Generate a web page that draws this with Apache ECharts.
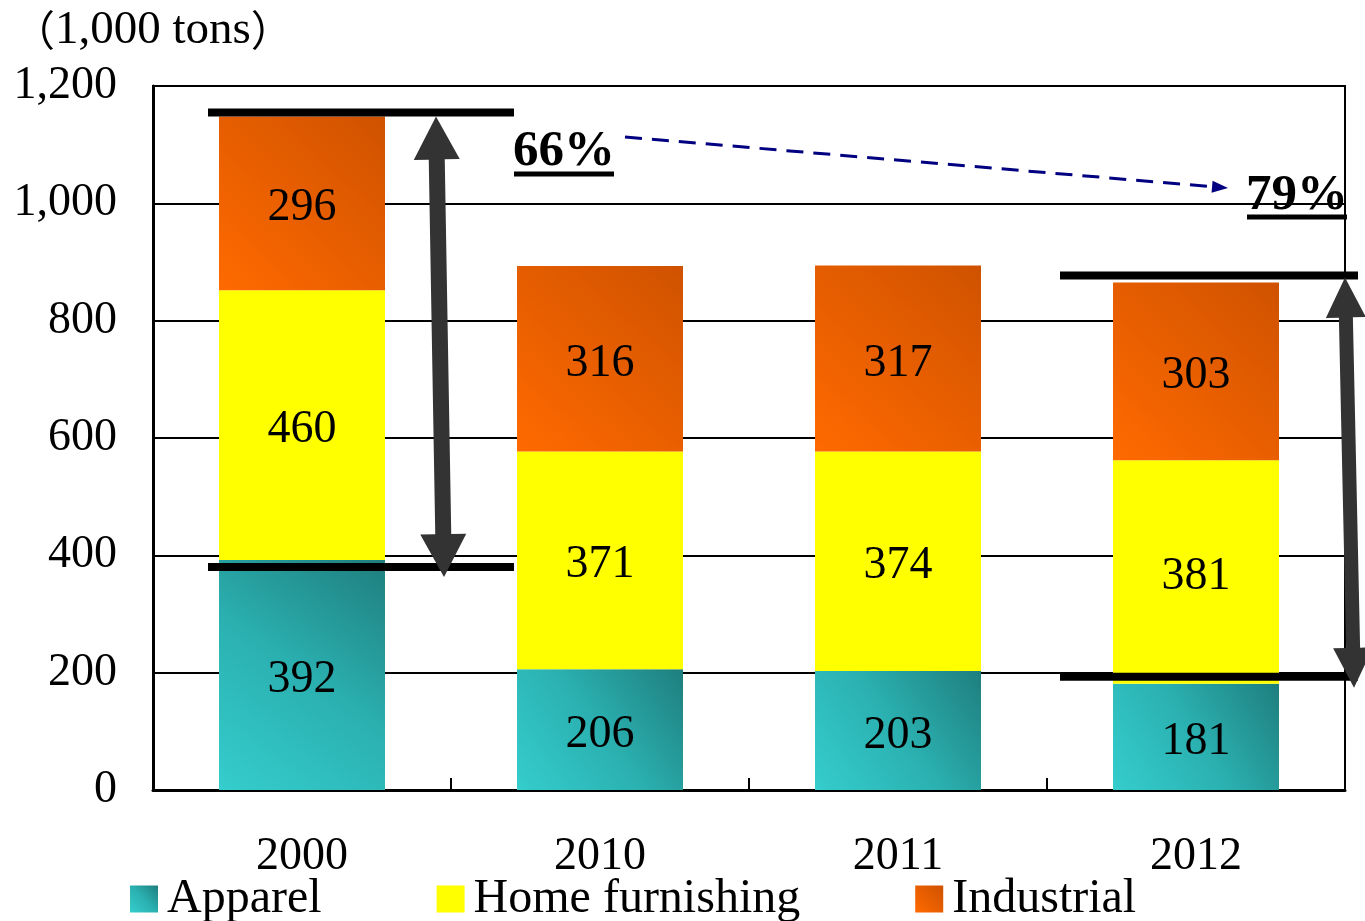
<!DOCTYPE html>
<html>
<head>
<meta charset="utf-8">
<script src="https://cdn.jsdelivr.net/npm/echarts@6/dist/echarts.min.js"></script>
<style>
  html, body { margin: 0; padding: 0; background: #fff; }
  #main { width: 1365px; height: 921px; }
</style>
</head>
<body>
<div id="main"></div>
<script>
// Textile consumption by end use (1,000 tons)
const categories = ['2000', '2010', '2011', '2012'];
const apparel = [392, 206, 203, 181];
const homeFurnishing = [460, 371, 374, 381];
const industrial = [296, 316, 317, 303];
const yTicks = [0, 200, 400, 600, 800, 1000, 1200];
const shareLabels = ['66%', '79%'];

const FONT = '"Liberation Serif", "Times New Roman", serif';
const CJK = '"Noto Sans CJK JP", "Noto Sans CJK SC", sans-serif';

const tealGrad = new echarts.graphic.LinearGradient(0, 1, 1, 0, [
  { offset: 0, color: '#35CDCD' },
  { offset: 0.5, color: '#2BB0B0' },
  { offset: 1, color: '#1F7E7E' }
]);
const orangeGrad = new echarts.graphic.LinearGradient(0, 1, 1, 0, [
  { offset: 0, color: '#FF6A00' },
  { offset: 1, color: '#CF5200' }
]);

const labelStyle = {
  show: true,
  position: 'inside',
  offset: [0, 5],
  color: '#000',
  fontFamily: FONT,
  fontSize: 46
};

function fmt(v) {
  return String(v).replace(/\B(?=(\d{3})+(?!\d))/g, ',');
}

const chart = echarts.init(document.getElementById('main'), null, { renderer: 'canvas' });

chart.setOption({
  animation: false,
  backgroundColor: '#fff',
  textStyle: { fontFamily: FONT },
  title: {
    text: '{p|（}{t|1,000 tons}{p|）}',
    left: 8,
    top: 2,
    textStyle: {
      fontWeight: 'normal',
      rich: {
        p: { fontFamily: CJK, fontSize: 42, fontWeight: 'normal', color: '#000' },
        t: { fontFamily: FONT, fontSize: 47, fontWeight: 'normal', color: '#000' }
      }
    }
  },
  legend: {
    left: 125,
    top: 870,
    itemWidth: 28,
    itemHeight: 27,
    itemGap: 115,
    icon: 'rect',
    textStyle: { fontFamily: FONT, fontSize: 48, color: '#000', padding: [0, 0, 0, 4] },
    data: ['Apparel', 'Home furnishing', 'Industrial']
  },
  grid: {
    left: 153,
    right: 20,
    top: 86,
    bottom: 131,
    show: true,
    borderColor: '#000',
    borderWidth: 2,
    backgroundColor: 'transparent'
  },
  xAxis: {
    type: 'category',
    data: categories,
    axisLine: { lineStyle: { color: '#000', width: 3 } },
    axisTick: { show: true, inside: true, length: 12, lineStyle: { color: '#000', width: 2 } },
    axisLabel: { color: '#000', fontFamily: FONT, fontSize: 46, margin: 44 }
  },
  yAxis: {
    type: 'value',
    min: 0,
    max: 1200,
    interval: 200,
    axisLine: { show: true, lineStyle: { color: '#000', width: 3 } },
    axisTick: { show: false },
    splitLine: { lineStyle: { color: '#000', width: 2 } },
    axisLabel: {
      color: '#000',
      fontFamily: FONT,
      fontSize: 46,
      margin: 36,
      formatter: v => (yTicks.includes(v) ? fmt(v) : '')
    }
  },
  series: [
    {
      name: 'Apparel',
      type: 'bar',
      stack: 'total',
      barWidth: 166,
      data: apparel,
      itemStyle: { color: tealGrad },
      label: labelStyle
    },
    {
      name: 'Home furnishing',
      type: 'bar',
      stack: 'total',
      barWidth: 166,
      data: homeFurnishing,
      itemStyle: { color: '#FFFF00' },
      label: labelStyle
    },
    {
      name: 'Industrial',
      type: 'bar',
      stack: 'total',
      barWidth: 166,
      data: industrial,
      itemStyle: { color: orangeGrad },
      label: labelStyle
    }
  ]
});

// ---- annotations: bracket lines, double arrows, share labels ----
function px(catIdx, value) {
  return chart.convertToPixel({ gridIndex: 0 }, [catIdx, value]);
}

function doubleArrow(x1, y1, x2, y2, shaft, headW, headL) {
  const dx = x2 - x1, dy = y2 - y1;
  const len = Math.hypot(dx, dy);
  const ux = dx / len, uy = dy / len;
  const nx = -uy, ny = ux;
  const b1 = [x1 + ux * headL, y1 + uy * headL];
  const b2 = [x2 - ux * headL, y2 - uy * headL];
  const off = (p, s) => [p[0] + nx * s, p[1] + ny * s];
  return [
    [x1, y1],
    off(b1, headW / 2), off(b1, shaft / 2),
    off(b2, shaft / 2), off(b2, headW / 2),
    [x2, y2],
    off(b2, -headW / 2), off(b2, -shaft / 2),
    off(b1, -shaft / 2), off(b1, -headW / 2)
  ];
}

const totals = categories.map((_, i) => apparel[i] + homeFurnishing[i] + industrial[i]);

function bracket(catIdx, value, dyOff, leftOff, rightOff) {
  const p = px(catIdx, value);
  return {
    type: 'line',
    z: 100,
    shape: { x1: p[0] + leftOff, y1: p[1] + dyOff, x2: p[0] + rightOff, y2: p[1] + dyOff },
    style: { stroke: '#000', lineWidth: 8 }
  };
}

const g = [];
// 2000: total vs apparel
const t0 = px(0, totals[0]);
const a0 = px(0, apparel[0]);
g.push(bracket(0, totals[0], -4, -94, 212));
g.push(bracket(0, apparel[0], 7, -94, 212));
g.push({
  type: 'polygon', z: 101,
  shape: { points: doubleArrow(t0[0] + 134, t0[1], t0[0] + 142, a0[1] + 17, 16, 46, 43) },
  style: { fill: '#333333' }
});
// 2012: total vs apparel
const t3 = px(3, totals[3]);
const a3 = px(3, apparel[3]);
g.push(bracket(3, totals[3], -7, -136, 162));
g.push(bracket(3, apparel[3], -7, -136, 162));
g.push({
  type: 'polygon', z: 101,
  shape: { points: doubleArrow(t3[0] + 149, t3[1] - 5, t3[0] + 158, a3[1] + 4, 14, 40, 40) },
  style: { fill: '#333333' }
});

// share labels with underline
function shareText(text, x, y, underlineY, x1, x2) {
  g.push({
    type: 'text', z: 102,
    x: x, y: y,
    style: {
      text: text, fill: '#000', fontFamily: FONT, fontSize: 51, fontWeight: 'bold',
      textAlign: 'center', textVerticalAlign: 'middle'
    }
  });
  g.push({
    type: 'line', z: 102,
    shape: { x1: x1, y1: underlineY, x2: x2, y2: underlineY },
    style: { stroke: '#000', lineWidth: 5 }
  });
}
shareText(shareLabels[0], 564, 152, 174, 514, 614);
shareText(shareLabels[1], 1297, 196, 217, 1247, 1347);

// dashed trend arrow between the two shares
const ax1 = 625, ay1 = 137, ax2 = 1228, ay2 = 188;
const alen = Math.hypot(ax2 - ax1, ay2 - ay1);
const aux = (ax2 - ax1) / alen, auy = (ay2 - ay1) / alen;
g.push({
  type: 'line', z: 102,
  shape: { x1: ax1, y1: ay1, x2: ax2 - aux * 14, y2: ay2 - auy * 14 },
  style: { stroke: '#000080', lineWidth: 3, lineDash: [17, 10] }
});
g.push({
  type: 'polygon', z: 102,
  shape: {
    points: [
      [ax2, ay2],
      [ax2 - aux * 16 - auy * 6, ay2 - auy * 16 + aux * 6],
      [ax2 - aux * 16 + auy * 6, ay2 - auy * 16 - aux * 6]
    ]
  },
  style: { fill: '#000080' }
});

chart.setOption({ graphic: g });
</script>
</body>
</html>
